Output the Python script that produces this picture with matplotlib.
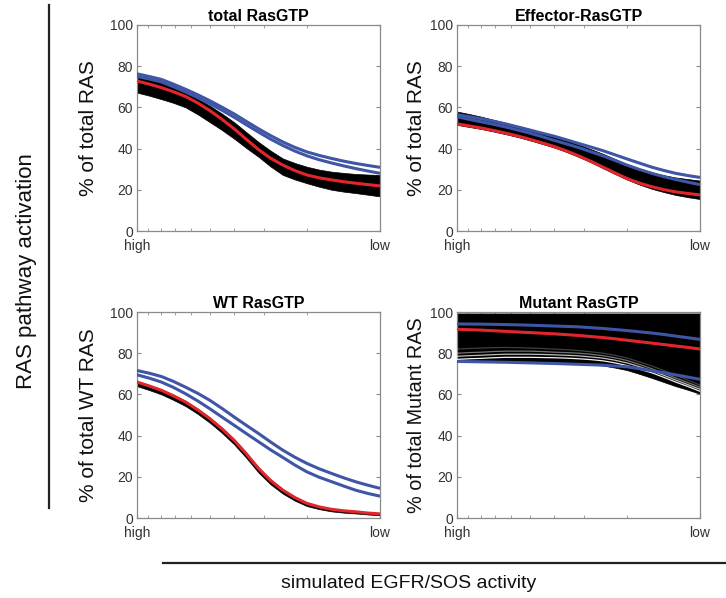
import matplotlib
matplotlib.use('Agg')
import matplotlib.pyplot as plt
from matplotlib.lines import Line2D
from matplotlib.ticker import FixedLocator, FixedFormatter, NullFormatter, LogLocator

plt.rcParams['font.family'] = ['Liberation Sans', 'DejaVu Sans']

# EGFR/SOS activity level (log axis, high -> low)
egfr = [10.0, 8.91, 7.94, 7.08, 6.31, 5.62, 5.01, 4.47, 3.98, 3.55, 3.16,
        2.82, 2.51, 2.24, 2.0, 1.78, 1.58, 1.41, 1.26, 1.12, 1.0]

# total RasGTP
tot_red = [72.8, 71.3, 69.6, 67.6, 65.3, 62.1, 58.4, 54.2, 49.6, 44.5, 39.5,
           35.3, 32.0, 29.3, 27.2, 25.8, 24.8, 23.9, 23.2, 22.5, 21.9]
tot_lo = [67.2, 65.7, 64.0, 62.2, 60.0, 56.6, 52.8, 49.0, 44.8, 40.3, 36.0,
          31.3, 27.2, 25.0, 23.2, 21.5, 20.0, 19.1, 18.4, 17.6, 16.8]
tot_hi = [75.2, 73.7, 72.0, 69.8, 67.2, 64.2, 60.8, 57.0, 52.8, 48.0, 43.2,
          39.0, 35.2, 33.0, 31.2, 29.8, 28.8, 28.2, 27.7, 27.4, 27.2]
tot_blue1 = [76.3, 75.0, 73.6, 71.3, 68.8, 66.1, 63.2, 60.1, 56.8, 53.2, 49.6,
             46.3, 43.2, 40.6, 38.4, 36.7, 35.2, 33.9, 32.8, 31.8, 30.9]
tot_blue2 = [75.0, 73.8, 72.4, 70.0, 67.5, 64.7, 61.8, 58.6, 55.2, 51.6, 48.0,
             44.6, 41.5, 38.8, 36.5, 34.6, 33.0, 31.6, 30.3, 29.1, 28.0]

# Effector-RasGTP
eff_red = [52.0, 51.0, 50.0, 48.8, 47.5, 46.1, 44.5, 42.8, 41.0, 38.9, 36.5,
           33.9, 31.0, 28.2, 25.5, 23.3, 21.5, 20.1, 19.0, 18.2, 17.5]
eff_lo = [51.5, 50.5, 49.5, 48.3, 47.0, 45.6, 44.0, 42.3, 40.5, 38.4, 36.0,
          33.4, 30.5, 27.7, 25.0, 22.6, 20.5, 18.9, 17.5, 16.4, 15.5]
eff_hi = [58.0, 56.8, 55.5, 54.0, 52.5, 51.0, 49.5, 47.8, 46.0, 44.1, 42.0,
          39.8, 37.5, 35.0, 32.5, 30.4, 28.5, 27.1, 26.0, 25.2, 24.5]
eff_blue1 = [56.5, 55.5, 54.5, 53.3, 52.0, 50.5, 49.0, 47.5, 46.0, 44.3, 42.5,
             40.8, 39.0, 37.0, 35.0, 33.0, 31.0, 29.4, 28.0, 26.9, 26.0]
eff_blue2 = [55.5, 54.2, 53.0, 51.8, 50.5, 49.0, 47.5, 45.8, 44.0, 42.3, 40.5,
             38.5, 36.5, 34.3, 32.0, 29.9, 28.0, 26.4, 25.0, 23.7, 22.5]

# WT RasGTP
wt_red = [66.0, 64.1, 62.0, 59.3, 56.3, 52.5, 48.2, 43.3, 37.7, 31.2, 24.0,
          18.2, 13.5, 9.9, 7.1, 5.4, 4.2, 3.5, 3.0, 2.4, 2.0]
wt_lo = [64.0, 62.1, 60.0, 57.3, 54.3, 50.5, 46.2, 41.3, 35.7, 29.2, 22.0,
         16.3, 11.8, 8.4, 5.8, 4.3, 3.2, 2.6, 2.2, 1.7, 1.3]
wt_hi = [66.5, 64.6, 62.5, 59.8, 56.8, 53.0, 48.7, 43.8, 38.2, 31.7, 24.5,
         18.7, 14.0, 10.4, 7.6, 5.8, 4.6, 3.8, 3.3, 2.7, 2.3]
wt_blue1 = [71.6, 70.3, 68.7, 66.3, 63.5, 60.5, 57.1, 53.2, 49.0, 45.0, 41.0,
            36.9, 32.9, 29.5, 26.5, 23.9, 21.6, 19.5, 17.6, 15.9, 14.4]
wt_blue2 = [69.5, 67.9, 66.0, 63.4, 60.3, 56.8, 53.0, 49.0, 45.0, 41.0, 37.0,
            33.1, 29.4, 25.7, 22.4, 19.8, 17.6, 15.5, 13.5, 11.9, 10.6]

# Mutant RasGTP
mut_red = [91.6, 91.4, 91.2, 90.9, 90.6, 90.3, 90.0, 89.7, 89.4, 89.0, 88.6,
           88.1, 87.6, 87.0, 86.3, 85.6, 84.9, 84.2, 83.5, 82.8, 82.0]
mut_lo = [76.0, 76.0, 76.0, 76.0, 76.0, 76.0, 75.8, 75.7, 75.5, 75.3, 75.0,
          74.6, 74.0, 73.0, 71.8, 70.0, 68.0, 66.0, 64.0, 62.2, 60.3]
mut_hi = [99.3] * 21
mut_blue1 = [94.2, 94.15, 94.1, 94.0, 93.9, 93.75, 93.6, 93.4, 93.2, 93.0, 92.8,
             92.4, 92.0, 91.5, 91.0, 90.4, 89.8, 89.1, 88.3, 87.5, 86.7]
mut_blue2 = [76.0, 75.9, 75.8, 75.7, 75.6, 75.45, 75.3, 75.15, 75.0, 74.8, 74.6,
             74.4, 74.2, 73.8, 73.4, 72.5, 71.5, 70.5, 69.5, 68.4, 67.3]
mut_streaks = [
    [77.0, 77.3, 77.5, 77.8, 78.0, 78.0, 78.0, 77.9, 77.8, 77.6, 77.3,
     76.9, 76.3, 75.3, 74.0, 72.3, 70.5, 68.3, 66.0, 63.8, 61.5],
    [78.5, 78.8, 79.0, 79.3, 79.5, 79.5, 79.5, 79.4, 79.2, 79.0, 78.7,
     78.2, 77.6, 76.6, 75.3, 73.5, 71.5, 69.3, 67.0, 64.7, 62.5],
    [80.0, 80.3, 80.5, 80.8, 81.0, 81.0, 81.0, 80.8, 80.5, 80.3, 80.0,
     79.5, 78.8, 77.8, 76.5, 74.6, 72.5, 70.3, 68.0, 65.7, 63.5],
    [82.0, 82.3, 82.5, 82.7, 82.8, 82.7, 82.5, 82.3, 82.0, 81.7, 81.3,
     80.7, 80.0, 79.0, 77.7, 75.8, 73.8, 71.6, 69.3, 66.9, 64.5],
]
streak_alpha = [0.95, 0.75, 0.45, 0.25]

BLUE = '#3f55a6'
RED = '#e2262c'

W, H = 726, 598
fig = plt.figure(figsize=(W / 100, H / 100), dpi=100)


def px_axes(x0, y0, x1, y1):
    return fig.add_axes([x0 / W, 1 - y1 / H, (x1 - x0) / W, (y1 - y0) / H])


def panel(ax, title, ylabel, ylab_x, band, red, blues, ylab_size=15):
    lo, hi = band
    ax.fill_between(egfr, lo, hi, color='black', lw=0.5, zorder=2)
    for b in blues:
        ax.plot(egfr, b, color=BLUE, lw=2.2, zorder=4, solid_capstyle='butt')
    ax.plot(egfr, red, color=RED, lw=2.2, zorder=5, solid_capstyle='butt')
    ax.set_xscale('log')
    ax.set_xlim(10, 1)
    ax.set_ylim(0, 100)
    ax.xaxis.set_major_locator(FixedLocator([10, 1]))
    ax.xaxis.set_major_formatter(FixedFormatter(['high', 'low']))
    ax.xaxis.set_minor_locator(LogLocator(base=10, subs=range(2, 10)))
    ax.xaxis.set_minor_formatter(NullFormatter())
    ax.set_yticks([0, 20, 40, 60, 80, 100])
    ax.tick_params(which='both', direction='in', top=True, right=True,
                   colors='#8a8a8a', labelcolor='#333333', labelsize=10)
    ax.tick_params(which='major', length=3)
    ax.tick_params(which='minor', length=2)
    ax.tick_params(axis='x', which='major', pad=6)
    ax.tick_params(axis='y', which='major', pad=3)
    for s in ax.spines.values():
        s.set_color('#8a8a8a')
        s.set_linewidth(0.9)
    ax.set_title(title, fontsize=11.5, fontweight='bold', pad=3)
    ax.text(ylab_x, 0.5, ylabel, transform=ax.transAxes, rotation=90,
            ha='center', va='center', fontsize=ylab_size, color='#111111')


ax1 = px_axes(137, 25, 380, 231)
ax2 = px_axes(457, 25, 700, 231)
ax3 = px_axes(137, 312, 380, 518)
ax4 = px_axes(457, 312, 700, 518)

panel(ax1, 'total RasGTP', '% of total RAS', -0.2,
      (tot_lo, tot_hi), tot_red, [tot_blue1, tot_blue2])
panel(ax2, 'Effector-RasGTP', '% of total RAS', -0.165,
      (eff_lo, eff_hi), eff_red, [eff_blue1, eff_blue2])
panel(ax3, 'WT RasGTP', '% of total WT RAS', -0.2,
      (wt_lo, wt_hi), wt_red, [wt_blue1, wt_blue2])
panel(ax4, 'Mutant RasGTP', '% of total Mutant RAS', -0.165,
      (mut_lo, mut_hi), mut_red, [mut_blue1, mut_blue2], ylab_size=14.3)
for s, a in zip(mut_streaks, streak_alpha):
    ax4.plot(egfr, s, color='white', lw=0.9, alpha=a, zorder=3)

# bracket lines and shared labels
fig.add_artist(Line2D([49 / W, 49 / W], [1 - 5 / H, 1 - 508 / H],
                      transform=fig.transFigure, color='#222222', lw=1.6))
fig.add_artist(Line2D([163 / W, 1.0], [1 - 563 / H, 1 - 563 / H],
                      transform=fig.transFigure, color='#222222', lw=1.6))
fig.text(27 / W, 1 - 271 / H, 'RAS pathway activation', rotation=90,
         ha='center', va='center', fontsize=16, color='#111111')
fig.text(409 / W, 1 - 584 / H, 'simulated EGFR/SOS activity',
         ha='center', va='center', fontsize=14, color='#111111')

fig.savefig('out.png', dpi=100)
